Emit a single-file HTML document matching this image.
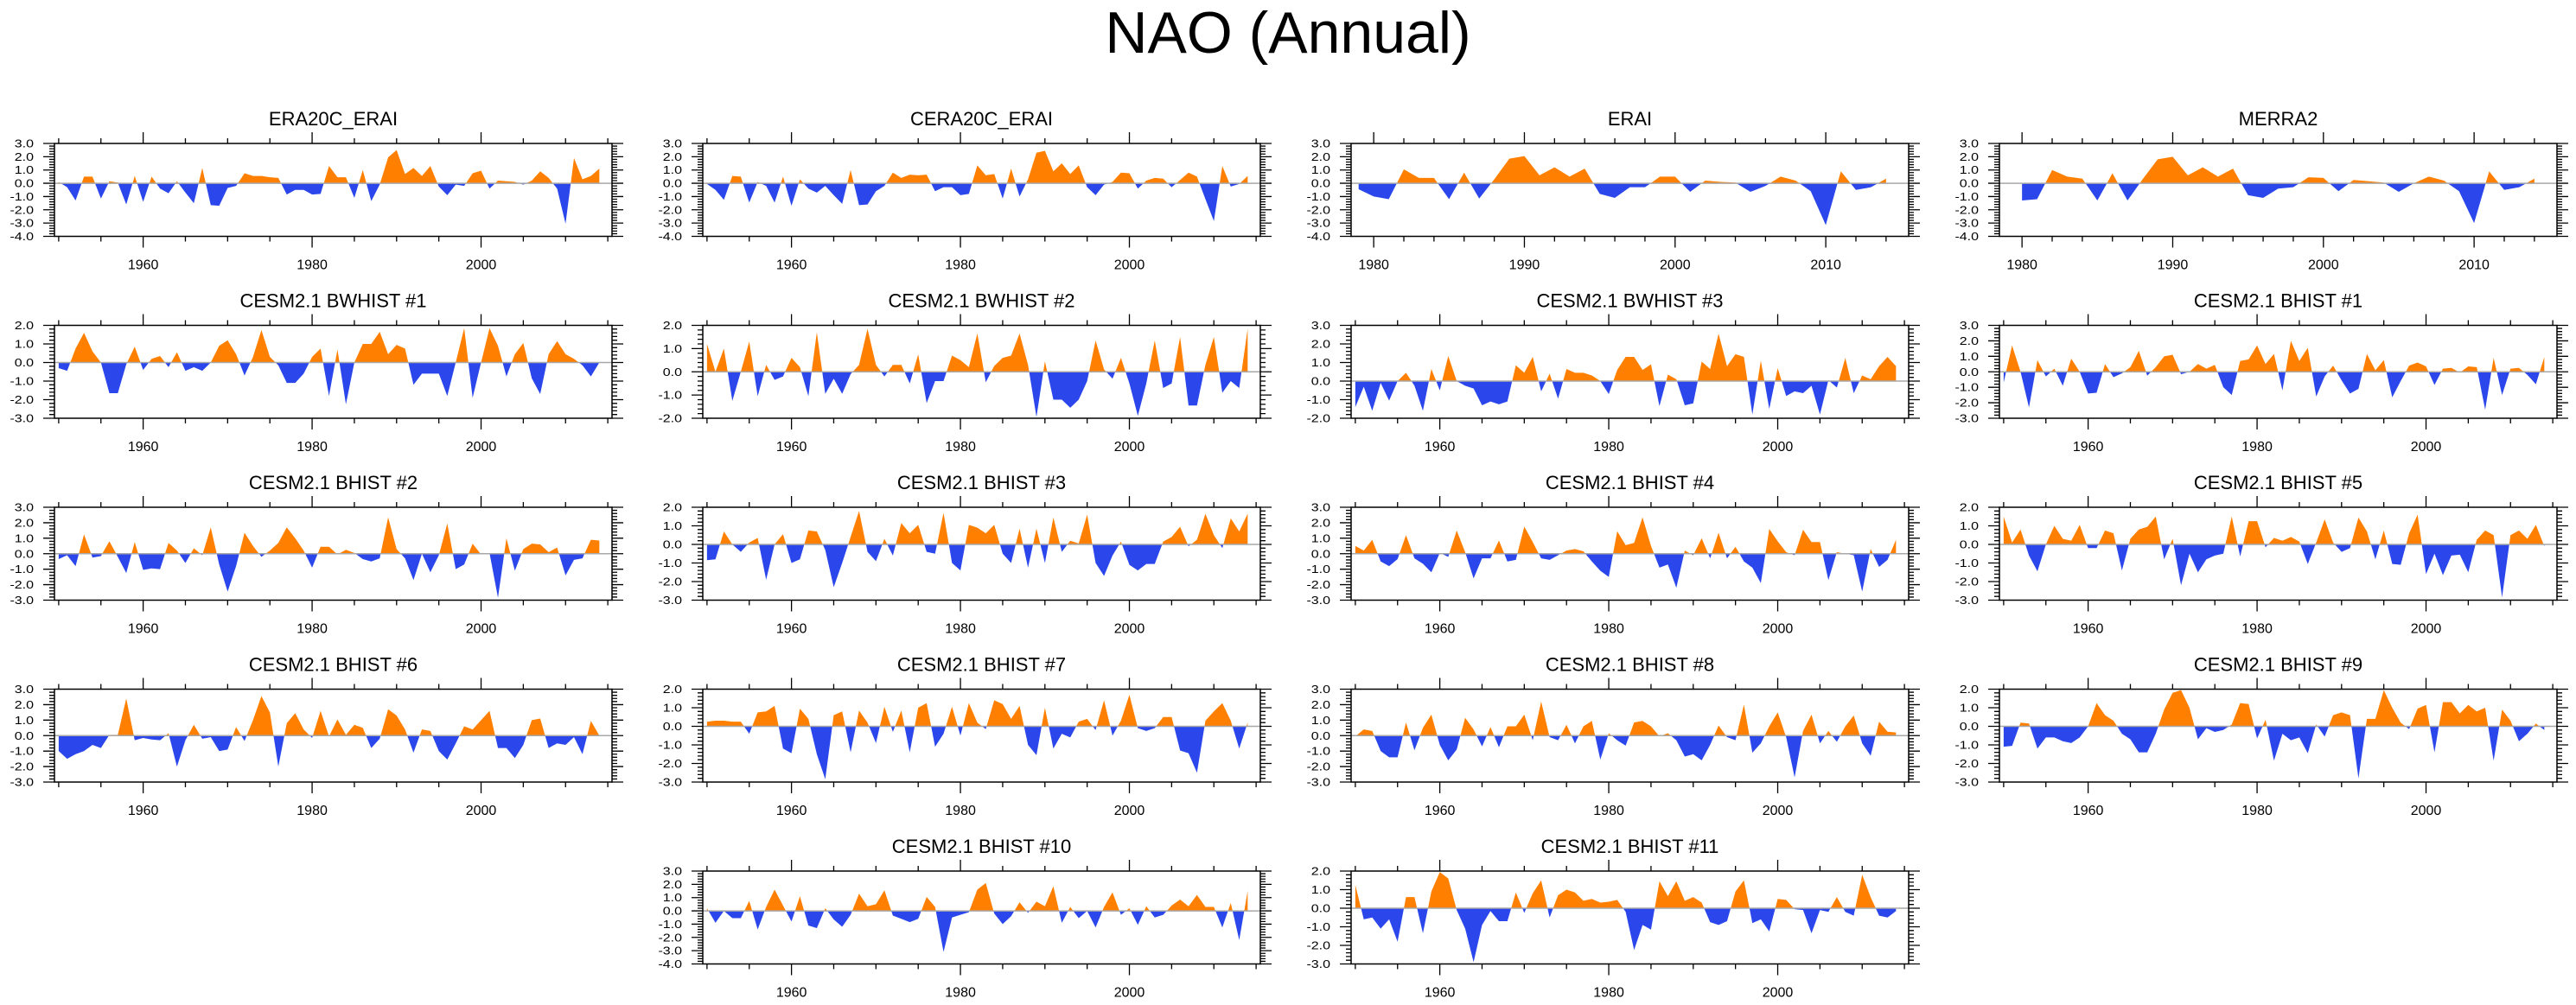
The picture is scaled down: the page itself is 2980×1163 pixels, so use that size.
<!DOCTYPE html>
<html><head><meta charset="utf-8"><title>NAO (Annual)</title>
<style>
html,body{margin:0;padding:0;background:#fff;}
svg{display:block;font-family:"Liberation Sans",Arial,sans-serif;}
</style></head>
<body>
<svg id="chart" width="2980" height="1163" viewBox="0 0 2980 1163" xmlns="http://www.w3.org/2000/svg">
<rect x="0" y="0" width="2980" height="1163" fill="#fff"/>
<text x="1490" y="61" font-size="68" text-anchor="middle" fill="#000">NAO (Annual)</text>
</svg>
<script>
const titles = ["ERA20C_ERAI","CERA20C_ERAI","ERAI","MERRA2","CESM2.1 BWHIST #1","CESM2.1 BWHIST #2","CESM2.1 BWHIST #3","CESM2.1 BHIST #1","CESM2.1 BHIST #2","CESM2.1 BHIST #3","CESM2.1 BHIST #4","CESM2.1 BHIST #5","CESM2.1 BHIST #6","CESM2.1 BHIST #7","CESM2.1 BHIST #8","CESM2.1 BHIST #9","CESM2.1 BHIST #10","CESM2.1 BHIST #11"];
const startYears = [1950,1950,1979,1980,1950,1950,1950,1950,1950,1950,1950,1950,1950,1950,1950,1950,1950,1950];
const yMax = [3,3,3,3, 2,2,3,3, 3,2,3,2, 3,2,3,2, 3,2];
const yMin = [-4,-4,-4,-4, -3,-2,-2,-3, -3,-3,-3,-3, -3,-3,-3,-3, -4,-3];
const sERA20C = [0.1,-0.3,-1.3,0.5,0.5,-1.15,0.15,0.05,-1.6,0.55,-1.4,0.5,-0.4,-0.75,0.15,-0.7,-1.5,1.15,-1.65,-1.7,-0.35,-0.2,0.75,0.55,0.55,0.45,0.4,-0.85,-0.5,-0.5,-0.85,-0.8,1.3,0.45,0.45,-1.1,1.0,-1.35,-0.1,1.95,2.5,0.7,1.15,0.55,1.3,-0.25,-0.9,-0.1,-0.2,0.75,0.95,-0.4,0.2,0.15,0.1,-0.1,0.2,0.9,0.4,-0.4,-3.05,1.9,0.3,0.55,1.1];
const sCERA20C = [-0.05,-0.5,-1.25,0.55,0.5,-1.45,0.1,-0.2,-1.45,0.5,-1.7,0.3,-0.4,-0.7,-0.2,-0.9,-1.55,1.0,-1.65,-1.6,-0.6,-0.2,0.8,0.4,0.65,0.6,0.65,-0.6,-0.3,-0.3,-0.9,-0.8,1.35,0.6,0.7,-1.15,1.1,-1.0,0.3,2.3,2.45,0.9,1.5,0.7,1.35,-0.3,-0.9,-0.1,0.1,0.8,0.75,-0.4,0.2,0.4,0.35,-0.3,0.25,0.8,0.5,-1.2,-2.85,1.3,-0.25,-0.05,0.55];
const sERAI = [-0.45,-1.0,-1.2,1.05,0.4,0.4,-1.2,0.8,-1.15,0.3,1.85,2.05,0.6,1.2,0.5,1.1,-0.8,-1.1,-0.3,-0.3,0.5,0.5,-0.65,0.2,0.1,0.05,-0.65,-0.2,0.5,0.2,-0.6,-3.15,0.9,-0.5,-0.3,0.35];
const sMERRA2 = [-1.3,-1.2,1.0,0.5,0.35,-1.3,0.75,-1.3,0.3,1.8,2.0,0.6,1.2,0.5,1.1,-0.9,-1.1,-0.4,-0.3,0.45,0.4,-0.6,0.25,0.15,0.05,-0.65,0.0,0.5,0.2,-0.6,-3.0,0.9,-0.5,-0.3,0.35];
const sBW1 = [-0.3,-0.45,0.75,1.6,0.6,0,-1.65,-1.65,-0.1,0.85,-0.4,0.2,0.35,-0.25,0.55,-0.45,-0.25,-0.45,0,0.9,1.2,0.45,-0.7,0.3,1.75,0.3,-0.15,-1.1,-1.1,-0.6,0.3,0.75,-1.8,0.7,-2.25,0,1.0,1.0,1.65,0.45,0.95,0.75,-1.2,-0.6,-0.6,-0.6,-1.8,0,1.85,-1.9,0,1.85,0.9,-0.75,0.45,1.05,-0.85,-1.7,0.45,1.15,0.45,0.2,-0.15,-0.75,0];
const sBW2 = [1.2,0,1.0,-1.25,0,1.3,-1.05,0.3,-0.35,-0.2,0.6,0.2,-1.05,1.7,-0.95,-0.3,-0.95,-0.1,0.3,1.85,0.3,-0.2,0.3,0.3,-0.5,0.75,-1.35,-0.4,-0.4,0.7,0.5,0.2,1.65,-0.45,0.25,0.6,0.7,1.65,0.3,-1.95,0.45,-1.2,-1.2,-1.55,-1.2,-0.4,1.35,0.1,-0.3,0.6,-0.5,-1.9,-0.5,1.35,-0.7,-0.5,1.5,-1.45,-1.45,0.3,1.5,-0.9,-0.4,-0.7,1.85];
const sBW3 = [-1.4,-0.3,-1.6,-0.1,-1.05,0,0.45,-0.25,-1.6,0.65,-0.5,1.35,0,-0.25,-0.4,-1.3,-1.1,-1.25,-1.1,0.85,0.45,1.3,-0.55,0.4,-0.95,0.65,0.45,0.45,0.3,0,-0.7,0.6,1.3,1.3,0.6,0.9,-1.35,0.35,0.1,-1.3,-1.2,1.05,0.65,2.55,0.8,1.45,1.3,-1.8,1.1,-1.5,0.7,-0.8,-0.55,-0.65,-0.25,-1.8,0.05,-0.35,1.25,-0.65,0.3,0.1,0.8,1.3,0.8];
const sB1 = [-0.7,1.7,0,-2.3,0.75,-0.3,0.2,-0.9,0.85,0,-1.4,-1.35,0.5,-0.35,-0.1,0.3,1.35,-0.25,0.3,1.0,1.1,-0.15,0,0.5,0.2,0.45,-1.0,-1.5,0.7,0.8,1.7,0.5,1.15,-1.2,2.0,0.7,1.55,-1.6,-0.3,0.4,-0.55,-1.4,-1.1,1.15,0.1,0.75,-1.65,-0.6,0.4,0.6,0.35,-0.85,0.2,0.25,-0.05,0.35,0.3,-2.45,0.9,-1.5,0.2,0.25,-0.2,-0.8,0.95];
const sB2 = [-0.35,-0.1,-0.8,1.25,-0.25,-0.15,0.8,-0.2,-1.25,0.75,-1.05,-0.95,-1.0,0.7,0.2,-0.6,0.35,-0.1,1.7,-0.7,-2.45,-0.8,1.35,0.5,-0.2,0.2,0.7,1.7,1.0,0.2,-0.9,0.45,0.45,-0.05,0.25,0.05,-0.35,-0.5,-0.3,2.35,0.3,-0.3,-1.7,0,-1.2,-0.1,1.95,-1.0,-0.7,0.65,-0.05,0.05,-2.85,1.0,-1.1,0.3,0.65,0.6,0.1,0.4,-1.4,-0.4,-0.3,0.9,0.85];
const sB3 = [-0.85,-0.8,0.7,0,-0.4,0.1,0.35,-1.9,0,0.55,-1.0,-0.8,0.75,0.7,-0.3,-2.3,-1.0,0.4,1.8,-0.4,-0.9,0.3,-0.6,1.15,0.6,1.05,-0.4,-0.5,1.7,-1.0,-1.4,1.05,0.9,0.6,1.05,-0.5,-1.0,0.85,-1.25,0.85,-1.0,1.45,-0.4,0.2,0.05,1.6,-1.0,-1.7,-0.6,0.15,-1.1,-1.4,-1.05,-1.05,0.15,0.4,0.95,-0.1,0.25,1.65,0.5,-0.2,1.4,0.7,1.65];
const sB4 = [0.5,0.2,0.9,-0.5,-0.8,-0.35,1.2,-0.3,-0.65,-1.2,0.05,-0.2,1.5,0.1,-1.6,-0.3,-0.3,0.85,-0.5,-0.4,1.75,0.75,-0.3,-0.4,-0.1,0.2,0.3,0.15,-0.5,-1.1,-1.5,1.45,0.55,0.7,2.35,0.5,-0.9,-0.7,-2.2,0.2,-0.1,1.0,-0.3,1.35,-0.3,0.45,-0.5,-0.9,-1.9,1.6,0.8,0.1,-0.1,1.55,0.75,0.75,-1.7,0.1,0,-0.1,-2.45,0.3,-0.85,-0.4,0.9];
const sB5 = [1.5,0.1,0.8,-0.6,-1.45,0,1.0,0.3,0.2,1.05,-0.2,-0.2,0.75,0.6,-1.4,0.3,0.8,0.95,1.5,-0.8,0.3,-2.2,-0.5,-1.5,-0.8,-0.6,-0.5,1.5,-0.65,1.25,1.25,-0.15,0.35,0.2,0.4,0.15,-1.05,0.1,1.35,0.1,-0.4,-0.2,1.45,0.7,-0.8,0.75,-1.05,-1.1,0.6,1.6,-1.6,-0.5,-1.65,-0.6,-0.55,-1.5,0.25,0.75,0.5,-2.85,0.5,0.75,0.3,1.05,-0.1];
const sB6 = [-1,-1.5,-1.2,-1,-0.6,-0.8,0.05,0.05,2.4,-0.3,-0.15,-0.25,-0.3,0.15,-2,-0.3,0.7,-0.2,-0.1,-1,-0.9,0.55,-0.35,1,2.55,1.5,-2,0.8,1.45,0.4,-0.15,1.6,-0.05,1.05,0.05,0.7,0.5,-0.8,-0.2,1.7,1.3,0.4,-1.1,0.4,0.3,-1,-1.55,-0.5,0.6,0.4,1,1.6,-0.8,-0.8,-1.45,-0.6,1,1.1,-0.8,-0.5,-0.6,-0.1,-1.2,0.95,0];
const sB7 = [0.25,0.3,0.3,0.25,0.25,-0.4,0.75,0.8,1.1,-1.2,-1.45,0.95,0.4,-1.5,-2.85,0.6,0.8,-1.4,0.85,0.2,-0.9,1.05,-0.3,0.85,-1.4,1,1.25,-1.1,-0.4,1.05,-0.5,1.25,0.2,-0.15,1.4,1.2,0.4,1.1,-1,-1.55,1,-1.2,-0.4,-0.6,0.25,0.4,-0.2,1.4,-0.5,0.3,1.7,-0.1,-0.25,-0.1,0.5,0.5,-1.3,-1.45,-2.5,0.3,0.8,1.25,0.3,-1.2,0.2];
const sB8 = [-0.05,0.4,0.3,-1,-1.4,-1.4,0.85,-0.95,0.5,1.35,-0.6,-1.6,-0.9,1.15,0.4,-0.7,0.55,-0.75,0.6,0.6,1.35,-0.3,2.2,-0.1,-0.3,0.7,-0.5,0.6,0.95,-1.55,0.15,-0.3,-0.65,0.85,0.95,0.6,-0.05,0.15,-0.3,-1.35,-1.2,-1.6,-0.6,0.65,-0.1,-0.3,2,-1.1,-0.5,0.6,1.5,-0.1,-2.7,0.3,1.35,-0.5,0.3,-0.4,0.6,1.3,-0.5,-1.3,0.9,0.25,0.2];
const sB9 = [-1.1,-1.05,0.2,0.15,-1.2,-0.6,-0.6,-0.8,-0.9,-0.6,0,1.25,0.6,0.3,-0.4,-0.7,-1.4,-1.4,-0.4,0.9,1.8,1.95,1,-0.7,-0.1,-0.3,-0.2,0.1,1.25,1.2,-0.65,0.35,-1.85,-0.4,-0.75,-0.6,-1.45,0.1,-0.55,0.6,0.75,0.6,-2.8,0.4,0.4,1.95,1,0.2,-0.15,0.95,1.15,-1.4,1.3,1.3,0.7,1.15,0.8,1,-1.85,0.9,0.3,-0.8,-0.4,0.15,-0.2];
const sB10 = [0.2,-0.9,0,-0.55,-0.55,0.75,-1.4,0.3,1.6,0.4,-0.8,1.1,-1.1,-1.3,0.2,-0.65,-1.2,-0.3,1.3,0.35,0.5,1.55,-0.35,-0.6,-0.85,-0.6,1.05,0.3,-3.1,-0.5,-0.3,-0.1,1.6,2.1,-0.2,-1,-0.4,0.65,-0.15,0.7,0.35,1.85,-0.9,0.3,-0.55,0,-1.25,0.3,1.4,-0.3,0.2,-1.05,0.35,-0.5,-0.3,0.4,0.85,0.35,1.2,0.3,0.3,-1.25,0.6,-2.2,1.5];
const sB11 = [1.25,-0.6,-0.5,-1.1,-0.6,-1.8,0.6,0.6,-1.35,0.9,1.95,1.6,-0.1,-1.1,-2.9,-0.9,-0.15,-0.7,-0.7,0.85,-0.25,0.8,1.5,-0.5,0.7,1,0.85,0.4,0.5,0.3,0.35,0.45,-0.2,-2.25,-0.9,-1.15,1.45,0.65,1.45,0.4,0.6,0.3,-0.75,-0.9,-0.7,0.9,1.5,-0.8,-0.6,-1.25,0.5,0.45,-0.05,-0.1,-1.35,-0.1,-0.2,0.6,-0.2,-0.4,1.8,0.6,-0.4,-0.5,-0.15];
const allSeries = [sERA20C,sCERA20C,sERAI,sMERRA2,sBW1,sBW2,sBW3,sB1,sB2,sB3,sB4,sB5,sB6,sB7,sB8,sB9,sB10,sB11];
const longYearLabels = [1960,1980,2000];
const shortYearLabels = [1980,1990,2000,2010];

const NS = "http://www.w3.org/2000/svg";
const svg = document.getElementById("chart");
const COLS = [63,813,1563,2313];
const ROWS = [166,376.5,587,797.5,1008];
const BW = 645, BH = 107.5;
const slots = [];
for (let r=0;r<4;r++) for (let c=0;c<4;c++) slots.push([c,r]);
slots.push([1,4]); slots.push([2,4]);

function el(tag, attrs, parent){
  const e = document.createElementNS(NS, tag);
  for (const k in attrs) e.setAttribute(k, attrs[k]);
  (parent||svg).appendChild(e);
  return e;
}
function slug(s){return s.toLowerCase().replace(/[^a-z0-9]+/g,'-').replace(/^-|-$/g,'');}

allSeries.forEach((vals, p) => {
  const [c,r] = slots[p];
  const L = COLS[c], T = ROWS[r], R = L+BW, B = T+BH;
  const short = startYears[p] > 1960;
  const x0 = short ? 1978.5 : 1949.5, x1 = 2015.5;
  const xs = y => L + (y - x0)/(x1 - x0)*BW;
  const ys = v => T + (yMax[p] - v)/(yMax[p]-yMin[p])*BH;
  const g = el("g", {});
  
  

  const tt = el("text", {x:(L+R)/2, y:T-21, "font-size":22, "text-anchor":"middle", fill:"#000"}, g);
  
  
  tt.textContent = titles[p];

  // fills
  const pts = [];
  for (let i=0;i<vals.length;i++){
    const yr = startYears[p]+i, v = vals[i];
    if (i>0){
      const pv = vals[i-1];
      if ((pv>0&&v<0)||(pv<0&&v>0)){
        const t = pv/(pv-v);
        pts.push([yr-1+t,0]);
      }
    }
    pts.push([yr,v]);
  }
  const z = ys(0);
  const first = xs(pts[0][0]), last = xs(pts[pts.length-1][0]);
  let pos = `M${first},${z}`, neg = `M${first},${z}`;
  pts.forEach(([yr,v]) => {
    pos += ` L${xs(yr).toFixed(2)},${ys(Math.max(v,0)).toFixed(2)}`;
    neg += ` L${xs(yr).toFixed(2)},${ys(Math.min(v,0)).toFixed(2)}`;
  });
  pos += ` L${last},${z} Z`; neg += ` L${last},${z} Z`;
  const pp = el("path", {d:pos, fill:"#ff8000"}, g);
  
  
  const np = el("path", {d:neg, fill:"#2b47ec"}, g);
  
  
  const zl = el("line", {x1:L, x2:R, y1:z, y2:z, stroke:"#a8a8a8", "stroke-width":1.5}, g);
  
  

  // frame
  const fr = el("rect", {x:L, y:T, width:BW, height:BH, fill:"none", stroke:"#000", "stroke-width":1.5}, g);
  
  

  // x ticks
  let d = "";
  const minorStep = short ? 2 : 5, majorStep = short ? 10 : 20;
  const startT = short ? 1980 : 1950;
  for (let yr=startT; yr<=2015; yr+=minorStep){
    const x = xs(yr);
    const len = (yr % majorStep === 0) ? 13 : 6;
    d += `M${x},${T} V${T-len} M${x},${B} V${B+len} `;
  }
  // y ticks
  for (let k=Math.round(yMin[p]*5); k<=Math.round(yMax[p]*5); k++){
    const v = k/5, y = ys(v);
    const len = (k % 5 === 0) ? 13 : 6;
    d += `M${L},${y} H${L-len} M${R},${y} H${R+len} `;
  }
  const tk = el("path", {d:d, stroke:"#000", "stroke-width":1.3, fill:"none"}, g);
  
  

  const labs = short ? shortYearLabels : longYearLabels;
  labs.forEach(yr => {
    const t = el("text", {x:xs(yr), y:B+38, "font-size":16, "text-anchor":"middle", fill:"#000"}, g);
    
    
    t.textContent = yr;
  });
  for (let v=yMin[p]; v<=yMax[p]; v++){
    const t = el("text", {transform:`translate(${L-24},${ys(v)+4.5}) scale(1,0.82)`, "font-size":16, "text-anchor":"end", fill:"#000"}, g);
    
    
    t.textContent = v.toFixed(1);
  }
});
</script>
</body></html>
